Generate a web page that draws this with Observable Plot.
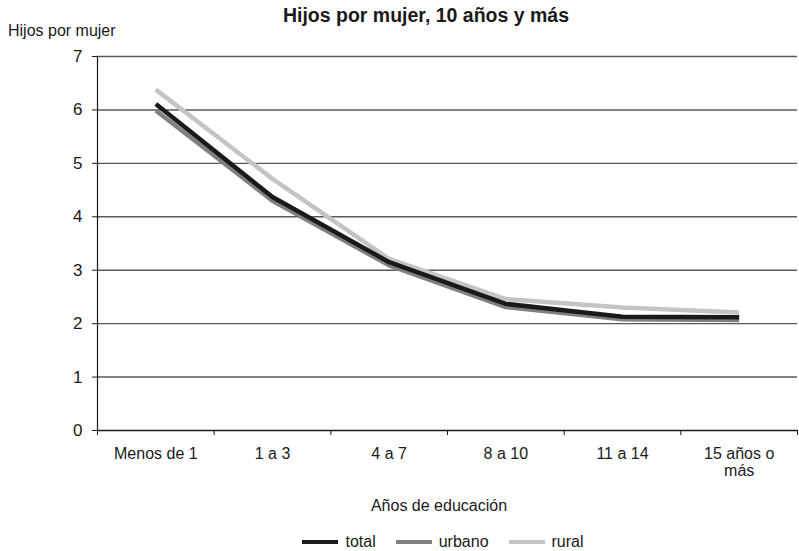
<!DOCTYPE html>
<html><head><meta charset="utf-8">
<script src="https://cdn.jsdelivr.net/npm/d3@7"></script>
<script src="https://cdn.jsdelivr.net/npm/@observablehq/plot@0.6"></script>
<style>
body{margin:0;background:#fff;}
#wrap{position:relative;width:799px;height:551px;font-family:"Liberation Sans",Arial,sans-serif;color:#1a1a1a;}
#title{position:absolute;left:0;width:852px;top:4px;text-align:center;font-weight:bold;font-size:19.5px;}
#ylab{position:absolute;left:8px;top:22px;font-size:16px;}
#xlab{position:absolute;left:97px;width:684px;top:497px;text-align:center;font-size:16px;}
#legend{position:absolute;left:0;width:886px;top:533px;display:flex;justify-content:center;gap:20px;font-size:16px;}
#legend .it{display:flex;align-items:center;gap:7px;}
#legend .sw{display:inline-block;width:36px;height:4px;}
#chart{position:absolute;left:0;top:0;}
</style></head>
<body><div id="wrap"><div id="chart"></div>
<div id="title">Hijos por mujer, 10 años y más</div>
<div id="ylab">Hijos por mujer</div>
<div id="xlab">Años de educación</div>
<div id="legend"></div></div>
<script>
const categories = ["Menos de 1","1 a 3","4 a 7","8 a 10","11 a 14","15 años o\nmás"];
const total  = [6.11, 4.37, 3.15, 2.37, 2.13, 2.12];
const urbano = [5.99, 4.30, 3.09, 2.31, 2.08, 2.07];
const rural  = [6.38, 4.71, 3.21, 2.46, 2.30, 2.21];
const seriesNames = ["rural","urbano","total"];
const seriesColors = {total:"#1a1a1a", urbano:"#808080", rural:"#c4c4c4"};
const yTicks = [0,1,2,3,4,5,6,7];

const vals = {total, urbano, rural};
const data = [];
for (const s of seriesNames) categories.forEach((c,i)=>data.push({s, i: i+0.5, v: vals[s][i]}));

const font = '"Liberation Sans",Arial,sans-serif';
const plot = Plot.plot({
  width:799, height:551,
  marginTop:56, marginBottom:121, marginLeft:97, marginRight:2,
  style:{fontFamily:font, fontSize:"16px", color:"#1a1a1a", background:"transparent"},
  x:{type:"linear", domain:[0, categories.length], axis:null, label:null},
  y:{domain:[0,7], axis:null, label:null},
  marks:[
    Plot.ruleY(yTicks.filter(d=>d>0), {stroke:"#5a5a5a", strokeWidth:1.4}),
    Plot.axisY(yTicks, {tickSize:5, tickPadding:10, stroke:"#1a1a1a", fontSize:17, label:null, tickFormat:d=>String(d)}),
    Plot.axisX(d3.range(categories.length+1), {tickSize:5, tickFormat:()=>"", stroke:"#1a1a1a", label:null}),
    Plot.axisX(d3.range(categories.length).map(i=>i+0.5), {tickSize:0, tickPadding:17, tickFormat:d=>categories[Math.floor(d)], fontSize:16, lineHeight:1.05, label:null}),
    Plot.ruleX([0], {stroke:"#1a1a1a", strokeWidth:1.2}),
    Plot.ruleY([0], {stroke:"#1a1a1a", strokeWidth:1.4}),
    Plot.line(data, {x:"i", y:"v", z:"s", stroke:d=>seriesColors[d.s], strokeWidth:4.5, strokeLinejoin:"miter", strokeLinecap:"butt"})
  ]
});
document.getElementById("chart").appendChild(plot);
const lg = document.getElementById("legend");
for (const s of ["total","urbano","rural"]) {
  const it = document.createElement("div"); it.className="it";
  it.innerHTML = `<span class="sw" style="background:${seriesColors[s]}"></span><span>${s}</span>`;
  lg.appendChild(it);
}
</script></body></html>
